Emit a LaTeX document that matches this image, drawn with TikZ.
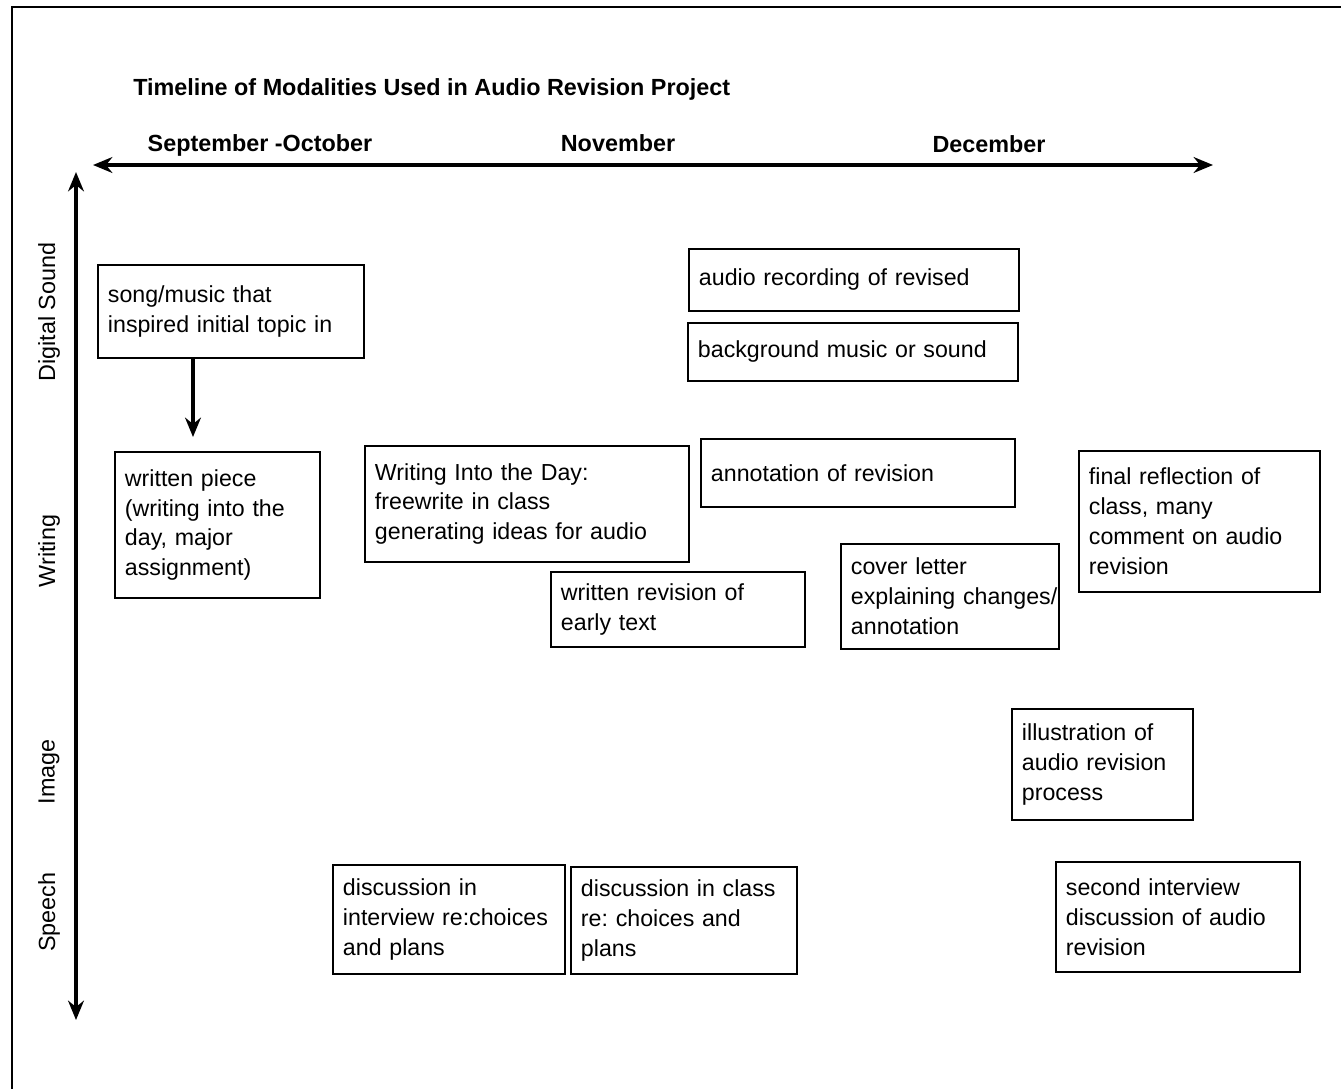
\documentclass[tikz,border=0pt]{standalone}
\usepackage{fontspec}
\setmainfont{Liberation Sans}
\usetikzlibrary{arrows.meta}
\frenchspacing
\begin{document}
\begin{tikzpicture}[x=0.02cm,y=-0.02cm,
  modebox/.style={draw,line width=1.1pt,anchor=north west,align=left,
    inner xsep=0.2cm,inner ysep=0pt,font=\fontsize{13.2}{17}\selectfont},
  heading/.style={font=\fontsize{13.3}{16}\selectfont\bfseries,inner sep=0pt},
  rowlabel/.style={font=\fontsize{13.3}{16}\selectfont,rotate=90,inner sep=0pt},
  axisarrow/.style={line width=1.8pt,{Stealth[length=11pt,width=9pt]}-{Stealth[length=11pt,width=9pt]}}]
\useasboundingbox (0,0) rectangle (1341,1089);
% frame (cut at the right and bottom)
\draw[line width=1.1pt] (1341,7) -- (12,7) -- (12,1089);
% headings
\node[heading,anchor=west] (title) at (133,89) {Timeline of Modalities Used in Audio Revision Project};
\node[heading] (sepoct) at (260,145) {September -October};
\node[heading] (nov) at (618,143) {November};
\node[heading] (dec) at (989,144) {December};
% axes
\coordinate (tleft) at (93,165);
\coordinate (tright) at (1213,165);
\coordinate (mtop) at (76,172);
\coordinate (mbot) at (76,1020);
\draw[axisarrow] (tleft) -- (tright);
\draw[axisarrow] (mtop) -- (mbot);
\node[rowlabel] (sound) at (49,312) {Digital Sound};
\node[rowlabel] (writing) at (49,551) {Writing};
\node[rowlabel] (image) at (49,772) {Image};
\node[rowlabel] (speech) at (49,912) {Speech};
% digital sound
\node[modebox,text width=4.92cm,minimum height=1.86cm] (song) at (97,264) {song/music that\\inspired initial topic in};
\node[modebox,text width=6.2cm,minimum height=1.24cm] (record) at (688,248) {audio recording of revised};
\node[modebox,text width=6.2cm,minimum height=1.16cm] (backmus) at (687,322) {background music or sound};
% writing
\node[modebox,text width=3.7cm,minimum height=2.92cm] (written) at (114,451) {written piece\\(writing into the\\day, major\\assignment)};
\node[modebox,text width=6.08cm,minimum height=2.32cm] (itd) at (364,445) {Writing Into the Day:\\freewrite in class\\generating ideas for audio};
\node[modebox,text width=4.68cm,minimum height=1.5cm] (wrev) at (550,571) {written revision of\\early text};
\node[modebox,text width=5.88cm,minimum height=1.36cm] (annot) at (700,438) {annotation of revision};
\node[modebox,text width=3.96cm,minimum height=2.1cm] (cover) at (840,543) {cover letter\\explaining~changes/\\annotation};
\node[modebox,text width=4.42cm,minimum height=2.82cm] (final) at (1078,450) {final reflection of\\class, many\\comment on audio\\revision};
% image
\node[modebox,text width=3.22cm,minimum height=2.22cm] (illus) at (1011,708) {illustration of\\audio revision\\process};
% speech
\node[modebox,text width=4.24cm,minimum height=2.18cm] (intdisc) at (332,864) {discussion in\\interview~re:choices\\and plans};
\node[modebox,text width=4.12cm,minimum height=2.14cm] (clsdisc) at (570,866) {discussion in class\\re: choices and\\plans};
\node[modebox,text width=4.48cm,minimum height=2.2cm] (second) at (1055,861) {second interview\\discussion of audio\\revision};
% song -> written piece
\coordinate (arrx) at (193,0);
\coordinate (arrend) at (193,437);
\draw[line width=1.8pt,-{Stealth[length=11pt,width=9pt]}] (song.south -| arrx) -- (arrend);
\end{tikzpicture}
\end{document}
